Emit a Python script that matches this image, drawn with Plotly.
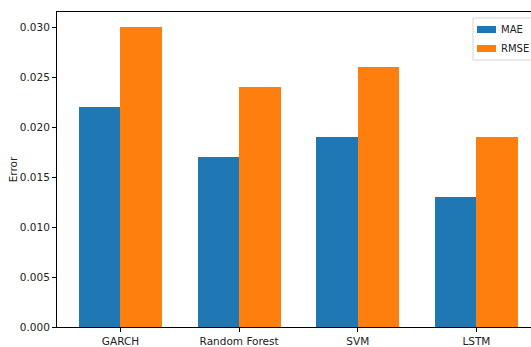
import plotly.graph_objects as go

models = ["GARCH", "Random Forest", "SVM", "LSTM"]
mae = [0.022, 0.017, 0.019, 0.013]
rmse = [0.030, 0.024, 0.026, 0.019]
y_ticks = [0.000, 0.005, 0.010, 0.015, 0.020, 0.025, 0.030]

series_names = ["MAE", "RMSE"]
series_colors = ["#1f77b4", "#ff7f0e"]

bar_w = 0.35
idx = list(range(len(models)))

W, H = 531, 347
ML, MR, MT, MB = 57, 0, 12, 20
PW, PH = W - ML - MR, H - MT - MB


def px_x(p):
    """pixel column -> paper x"""
    return (p - ML) / PW


def px_y(p):
    """pixel row -> paper y"""
    return (H - MB - p) / PH


fig = go.Figure()
for name, vals, col, off in zip(series_names, [mae, rmse], series_colors,
                                [-bar_w / 2, bar_w / 2]):
    fig.add_trace(go.Bar(
        x=[i + off for i in idx], y=vals, width=bar_w, name=name,
        marker=dict(color=col, line=dict(width=0)),
        showlegend=False,
    ))

font = dict(family="DejaVu Sans", size=10.5, color="#222222")
legend_font = dict(family="DejaVu Sans", size=10, color="#222222")

# legend box drawn by hand so it does not squeeze the plot area
shapes = [dict(
    type="rect", xref="paper", yref="paper", layer="above",
    x0=px_x(473), x1=px_x(545), y0=px_y(60), y1=px_y(18),
    line=dict(color="#d4d4d4", width=1), fillcolor="rgba(255,255,255,0.9)",
)]
annotations = []
for k, (name, col) in enumerate(zip(series_names, series_colors)):
    cy = 29.5 + k * 19
    shapes.append(dict(
        type="rect", xref="paper", yref="paper", layer="above",
        x0=px_x(477), x1=px_x(496), y0=px_y(cy + 3.5), y1=px_y(cy - 3.5),
        line=dict(width=0), fillcolor=col,
    ))
    annotations.append(dict(
        xref="paper", yref="paper", x=px_x(500), y=px_y(cy),
        xanchor="left", yanchor="middle", text=name, showarrow=False,
        font=legend_font, borderpad=0,
    ))

fig.update_layout(
    width=W, height=H,
    margin=dict(l=ML, r=MR, t=MT, b=MB),
    plot_bgcolor="white", paper_bgcolor="white",
    font=font,
    barmode="overlay",
    bargap=0,
    showlegend=False,
    shapes=shapes,
    annotations=annotations,
    xaxis=dict(
        range=[-0.535, 3.46],
        tickmode="array", tickvals=idx, ticktext=models,
        showgrid=False, zeroline=False,
        showline=True, linecolor="black", linewidth=1, mirror=True,
        ticks="outside", ticklen=4, tickcolor="black",
        tickfont=font,
    ),
    yaxis=dict(
        range=[0, 0.0315],
        tickmode="array", tickvals=y_ticks,
        ticktext=[f"{v:.3f}" for v in y_ticks],
        showgrid=False, zeroline=False,
        showline=True, linecolor="black", linewidth=1, mirror=False,
        ticks="outside", ticklen=4, tickcolor="black",
        tickfont=font,
        title=dict(text="Error", font=font, standoff=0),
    ),
)

fig.write_html("out.html")
